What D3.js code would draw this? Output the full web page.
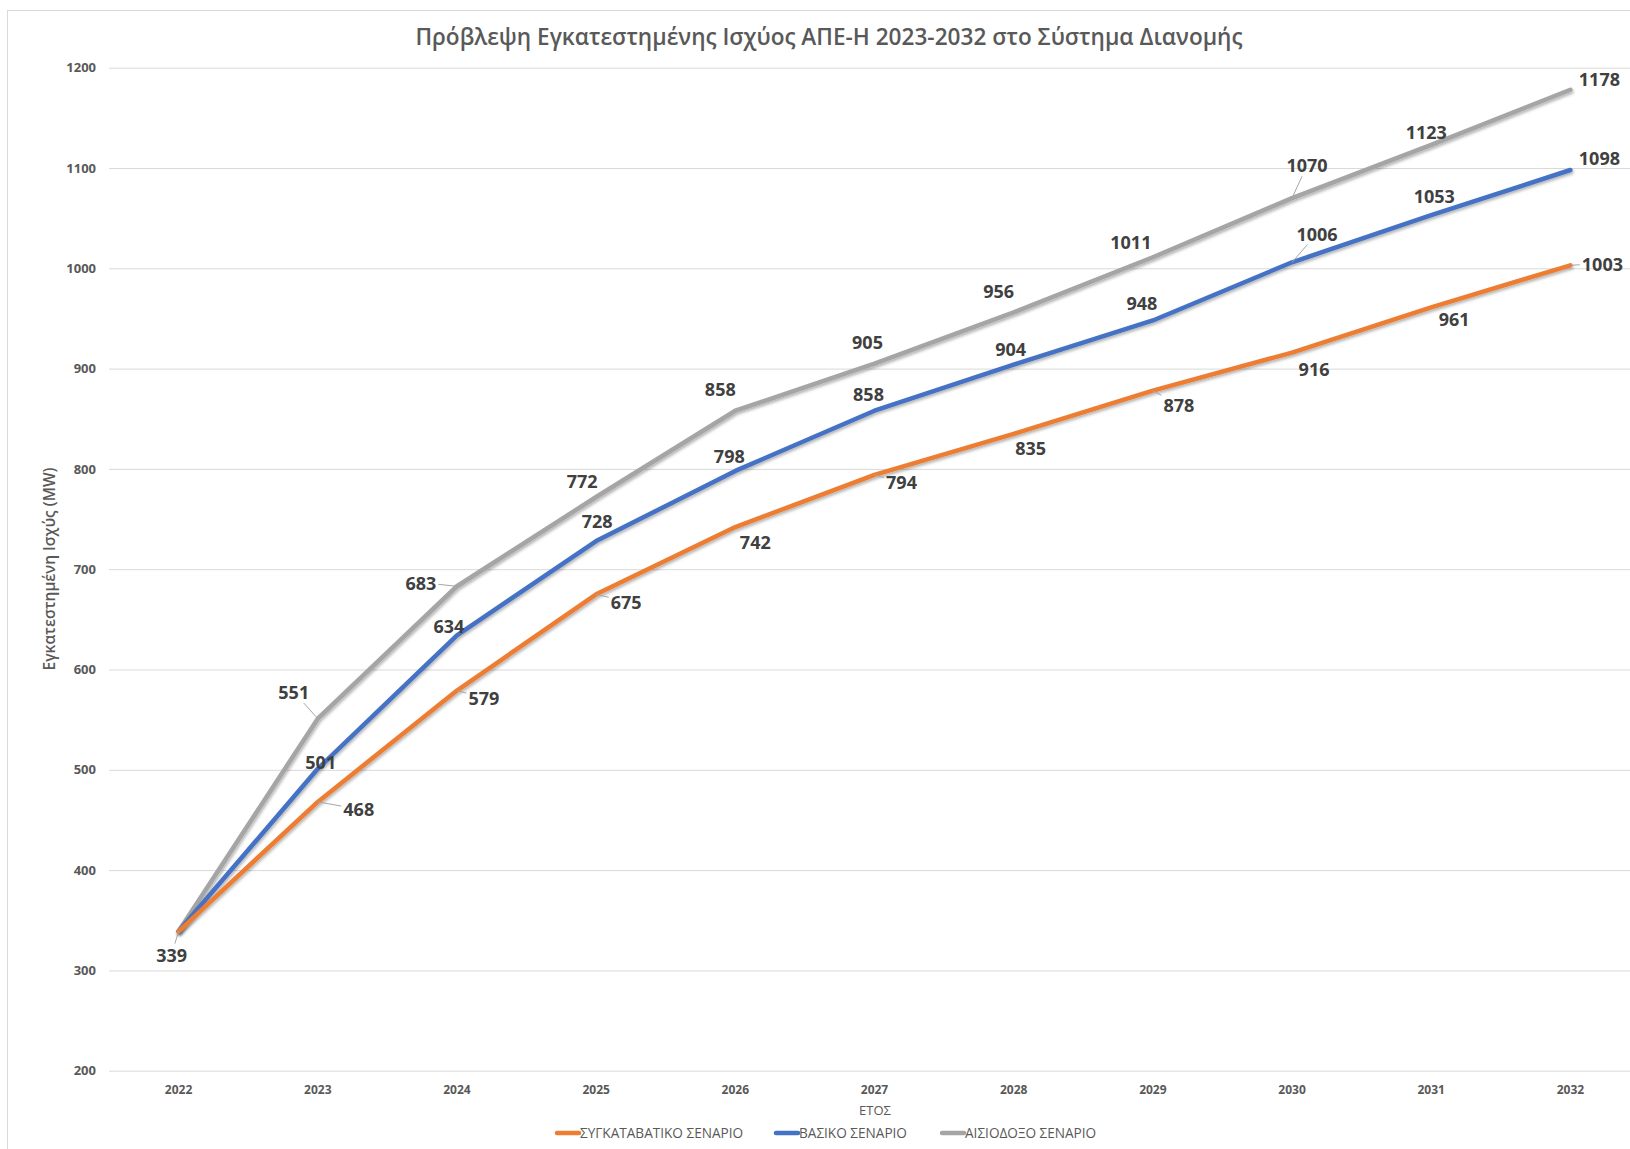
<!DOCTYPE html>
<html>
<head>
<meta charset="utf-8">
<title></title>
<script src="https://cdn.jsdelivr.net/npm/d3@7"></script>
<style>
  body { margin: 0; background: #fff; }
  text { font-family: "Open Sans", sans-serif; }
</style>
</head>
<body>
<script>
var years = ['2022','2023','2024','2025','2026','2027','2028','2029','2030','2031','2032'];
var seriesNames = ['ΣΥΓΚΑΤΑΒΑΤΙΚΟ ΣΕΝΑΡΙΟ', 'ΒΑΣΙΚΟ ΣΕΝΑΡΙΟ', 'ΑΙΣΙΟΔΟΞΟ ΣΕΝΑΡΙΟ'];
var conservative = [339, 468, 579, 675, 742, 794, 835, 878, 916, 961, 1003];
var basic = [339, 501, 634, 728, 798, 858, 904, 948, 1006, 1053, 1098];
var optimistic = [339, 551, 683, 772, 858, 905, 956, 1011, 1070, 1123, 1178];
var yTicks = [200, 300, 400, 500, 600, 700, 800, 900, 1000, 1100, 1200];

// label placement (pixel offsets from the point), null = no label, third item = leader line
var conservativeLabels = [null, [41,8,1], [27,8,1], [30,8,1], [20,16], [27,8,1], [17,15], [26,15,1], [22,17], [23,12], [32,-1,1]];
var basicLabels = [null, [3,-6], [-8,-9], [1,-19], [-6,-14], [-6,-16], [-3,-15], [-11,-17], [25,-28,1], [3,-18], [29,-11]];
var optimisticLabels = [[-7,24,1], [-24,-26,1], [-36,-3,1], [-14,-15], [-15,-21], [-7,-21], [-15,-21], [-22,-15], [15,-32,1], [-5,-12], [29,-10]];

var colors = ['#ED7D31', '#4472C4', '#A5A5A5'];

var w = 1630, h = 1149;
var svg = d3.select('body').append('svg')
    .attr('width', w)
    .attr('height', h);

var defs = svg.append('defs');
var f = defs.append('filter').attr('id', 'shadow')
    .attr('x', '-5%').attr('y', '-5%').attr('width', '110%').attr('height', '110%');
f.append('feDropShadow').attr('dx', 1).attr('dy', 2).attr('stdDeviation', 1.5)
    .attr('flood-color', '#000').attr('flood-opacity', 0.3);

// chart border
svg.append('rect')
    .attr('x', 7.5).attr('y', 10.5)
    .attr('width', 1700).attr('height', 1200)
    .attr('fill', 'none')
    .attr('stroke', '#d9d9d9');

var x = d3.scaleBand().domain(years).range([109, 1640]);
var xc = function(d) { return x(d) + x.bandwidth() / 2; };
var y = d3.scaleLinear().domain([200, 1200]).range([1070.7, 67.7]);

// title
svg.append('text')
    .attr('x', 829).attr('y', 45)
    .attr('text-anchor', 'middle')
    .attr('font-size', 22.6)
    .attr('font-weight', 600)
    .attr('fill', '#595959')
    .text('Πρόβλεψη Εγκατεστημένης Ισχύος ΑΠΕ-Η 2023-2032 στο Σύστημα Διανομής');

// grid + y axis
var yAxis = svg.append('g')
    .attr('transform', 'translate(109,0)')
    .call(d3.axisLeft(y).tickValues(yTicks).tickFormat(d3.format('d')).tickSize(-1531).tickPadding(13));
yAxis.select('.domain').remove();
yAxis.selectAll('.tick line').attr('stroke', '#d9d9d9');
yAxis.selectAll('.tick text')
    .attr('font-family', '"Open Sans", sans-serif')
    .attr('font-size', 13)
    .attr('font-weight', 700)
    .attr('fill', '#595959');

// x axis
var xAxis = svg.append('g')
    .attr('transform', 'translate(0,' + y(200) + ')')
    .call(d3.axisBottom(x).tickSize(0).tickPadding(15));
xAxis.select('.domain').remove();
xAxis.selectAll('.tick text')
    .attr('font-family', '"Open Sans", sans-serif')
    .attr('font-size', 12)
    .attr('font-weight', 700)
    .attr('fill', '#595959');

// axis titles
svg.append('text')
    .attr('x', 875).attr('y', 1115)
    .attr('text-anchor', 'middle')
    .attr('font-size', 13)
    .attr('fill', '#595959')
    .text('ΕΤΟΣ');

svg.append('text')
    .attr('transform', 'translate(55,569) rotate(-90)')
    .attr('text-anchor', 'middle')
    .attr('font-size', 15.5)
    .attr('font-weight', 600)
    .attr('fill', '#595959')
    .text('Εγκατεστημένη Ισχύς (MW)');

var allSeries = [conservative, basic, optimistic];
var allLabels = [conservativeLabels, basicLabels, optimisticLabels];

var line = d3.line()
    .x(function(d, i) { return xc(years[i]); })
    .y(function(d) { return y(d); });

// draw back to front: optimistic, basic, conservative
[2, 1, 0].forEach(function(s) {
    svg.append('path')
        .datum(allSeries[s])
        .attr('d', line)
        .attr('fill', 'none')
        .attr('stroke', colors[s])
        .attr('stroke-width', 4.5)
        .attr('stroke-linejoin', 'round')
        .attr('stroke-linecap', 'round')
        .attr('filter', 'url(#shadow)');
});

// data labels
var lg = svg.append('g');
allSeries.forEach(function(vals, s) {
    vals.forEach(function(v, i) {
        var o = allLabels[s][i];
        if (!o) return;
        var px = xc(years[i]), py = y(v);
        var lx = px + o[0], ly = py + o[1];
        var t = lg.append('text')
            .attr('x', lx).attr('y', ly)
            .attr('dy', '0.35em')
            .attr('text-anchor', 'middle')
            .attr('font-size', 18)
            .attr('font-weight', 700)
            .attr('fill', '#404040')
            .text(v);
        if (o[2]) {
            var b = t.node().getBBox();
            var hw = b.width / 2 + 2, hh = b.height / 2 - 1;
            var cx = b.x + b.width / 2, cy = b.y + b.height / 2;
            var dx = px - cx, dy = py - cy;
            var k = Math.min(Math.abs(dx) > 0 ? hw / Math.abs(dx) : 1e9, Math.abs(dy) > 0 ? hh / Math.abs(dy) : 1e9);
            if (k < 1) {
                lg.insert('line', 'text')
                    .attr('x1', cx + dx * k).attr('y1', cy + dy * k)
                    .attr('x2', px).attr('y2', py)
                    .attr('stroke', '#a6a6a6')
                    .attr('stroke-width', 1);
            }
        }
    });
});

// legend
var legendX = [557, 776, 942];
var legend = svg.append('g');
seriesNames.forEach(function(name, s) {
    var g = legend.append('g').attr('transform', 'translate(' + legendX[s] + ',1133)');
    g.append('line')
        .attr('x1', 0).attr('x2', 22)
        .attr('stroke', colors[s])
        .attr('stroke-width', 4.5)
        .attr('stroke-linecap', 'round');
    g.append('text')
        .attr('x', 23).attr('dy', '0.35em')
        .attr('font-size', 13.6)
        .attr('fill', '#595959')
        .text(name);
});
</script>
</body>
</html>
